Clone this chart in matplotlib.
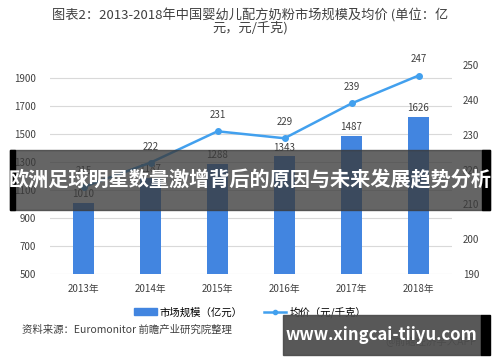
import matplotlib.pyplot as plt
from matplotlib.patches import Rectangle
from matplotlib.lines import Line2D

plt.rcParams['font.family'] = ['Noto Sans CJK SC', 'DejaVu Sans']

years = ['2013年', '2014年', '2015年', '2016年', '2017年', '2018年']
market = [1010, 1187, 1288, 1343, 1487, 1626]   # 亿元
price = [215, 222, 231, 229, 239, 247]          # 元/千克

bar_color = '#4285e0'
line_color = '#42a0ee'
txt = '#404040'

fig = plt.figure(figsize=(5, 3.62), dpi=100)
ax = fig.add_axes([0.1, 0.243, 0.804, 0.577])
x = range(len(years))

ax.bar(x, [m - 500 for m in market], bottom=500, width=0.31, color=bar_color, zorder=2)
for i, m in enumerate(market):
    ax.text(i, m + 25, str(m), ha='center', va='bottom', fontsize=7, color=txt)

ax.set_ylim(500, 1993)
ax.set_yticks(range(500, 2000, 200))
ax.set_xlim(-0.5, 5.5)
ax.set_xticks(list(x))
ax.set_xticklabels(years)
ax.grid(axis='y', color='#d9d9d9', lw=0.8, zorder=0)
for s in ax.spines.values():
    s.set_visible(False)
ax.tick_params(axis='y', length=0, labelsize=7, colors=txt, pad=10)
ax.tick_params(axis='x', length=0, labelsize=7, colors=txt, pad=7)

ax2 = ax.twinx()
ax2.plot(x, price, color=line_color, lw=1.8, marker='o', ms=4, zorder=3)
for i, p in enumerate(price):
    ax2.annotate(str(p), (i, p), xytext=(0, 8), textcoords='offset points',
                 ha='center', va='bottom', fontsize=7, color=txt)
ax2.set_ylim(190, 250)
ax2.set_yticks(range(190, 251, 10))
for s in ax2.spines.values():
    s.set_visible(False)
ax2.tick_params(length=0, labelsize=7, colors=txt, pad=8)

fig.text(0.5, 0.94, '图表2：2013-2018年中国婴幼儿配方奶粉市场规模及均价 (单位：亿\n元，元/千克)',
         ha='center', va='center', fontsize=9.5, color='#404040', linespacing=0.9)

# legend
handles = [Rectangle((0, 0), 1, 1, color=bar_color),
           Line2D([0], [0], color=line_color, lw=1.8, marker='o', ms=3)]
fig.legend(handles, ['市场规模（亿元）', '均价（元/千克）'], loc='center',
           bbox_to_anchor=(0.5, 0.138), ncol=2, frameon=False, fontsize=7.5,
           handlelength=2.2, handleheight=0.6, columnspacing=2.0, handletextpad=0.3)

fig.text(0.044, 0.088, '资料来源：Euromonitor 前瞻产业研究院整理', fontsize=7.5,
         color='#404040', va='center')
fig.text(0.77, 0.06, '@前瞻经济学人APP', fontsize=7.5, color='#606060', va='center')

# overlay banners
fig.patches.append(Rectangle((0.02, 0.42), 0.96, 0.166, transform=fig.transFigure,
                             color='#3a3a3a', alpha=0.78, zorder=10))
fig.patches.append(Rectangle((0.02, 0.42), 0.01, 0.166, transform=fig.transFigure,
                             color='black', zorder=11))
fig.patches.append(Rectangle((0.964, 0.42), 0.016, 0.166, transform=fig.transFigure,
                             color='black', zorder=11))
fig.text(0.5, 0.503, '欧洲足球明星数量激增背后的原因与未来发展趋势分析', ha='center', va='center',
         fontsize=14.5, fontweight='bold', color='white', zorder=12)

fig.patches.append(Rectangle((0.566, 0.019), 0.396, 0.111, transform=fig.transFigure,
                             color='#4a4a4a', alpha=0.92, zorder=10))
fig.patches.append(Rectangle((0.962, 0.019), 0.018, 0.111, transform=fig.transFigure,
                             color='black', zorder=11))
fig.text(0.762, 0.074, 'www.xingcai-tiiyu.com', ha='center', va='center',
         fontsize=12, fontweight='bold', color='white', zorder=12)

fig.savefig('out.png', dpi=100)
